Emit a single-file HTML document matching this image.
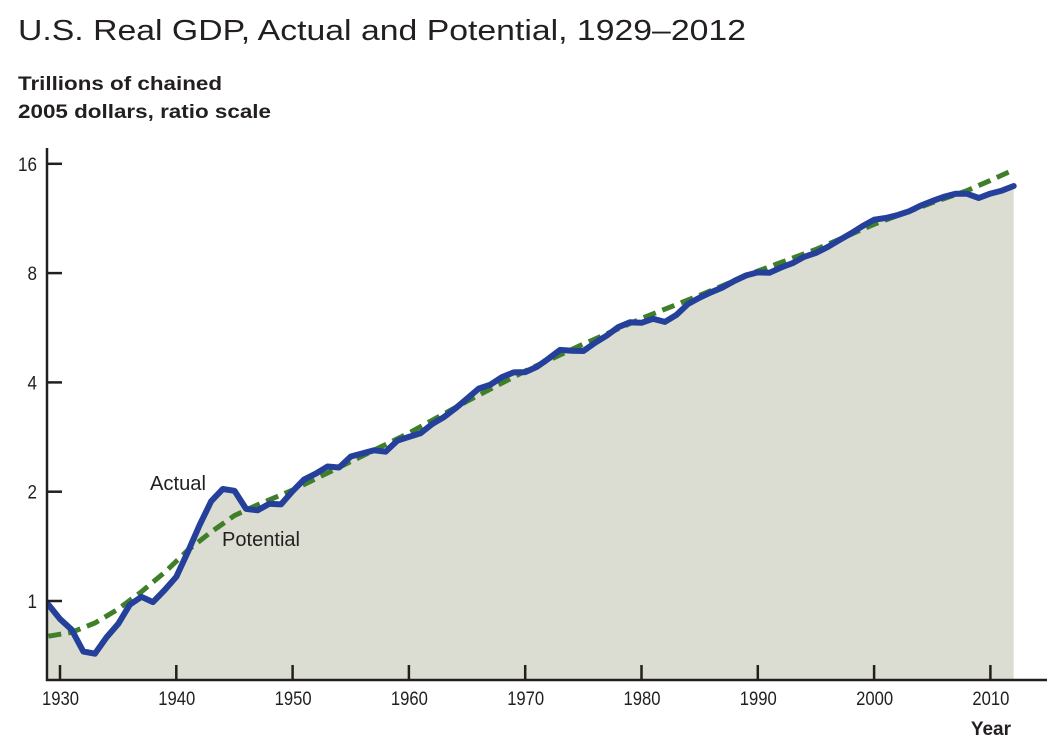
<!DOCTYPE html>
<html><head><meta charset="utf-8"><style>
body{margin:0;background:#fff;font-family:"Liberation Sans",sans-serif;}
svg text{font-family:"Liberation Sans",sans-serif;fill:#231f20;}
</style></head><body>
<svg id="chart" width="1053" height="747" viewBox="0 0 1053 747" xmlns="http://www.w3.org/2000/svg">
<text x="18" y="40" font-size="29" textLength="728" lengthAdjust="spacingAndGlyphs">U.S. Real GDP, Actual and Potential, 1929–2012</text>
<text x="18" y="90" font-size="19" font-weight="bold" textLength="204" lengthAdjust="spacingAndGlyphs">Trillions of chained</text>
<text x="18" y="118" font-size="19" font-weight="bold" textLength="253" lengthAdjust="spacingAndGlyphs">2005 dollars, ratio scale</text>
<g id="plot"></g>
<text x="1011" y="735" font-size="19" font-weight="bold" text-anchor="end">Year</text>
</svg>
<script>
const actualYears=[];for(let y=1929;y<=2012;y++)actualYears.push(y);
const actualValues=[0.977,0.892,0.834,0.726,0.716,0.794,0.865,0.977,1.027,0.993,1.072,1.166,1.366,1.618,1.883,2.035,2.012,1.793,1.777,1.852,1.845,2.006,2.162,2.243,2.347,2.332,2.500,2.550,2.601,2.578,2.763,2.831,2.897,3.073,3.207,3.392,3.610,3.845,3.943,4.133,4.262,4.270,4.413,4.648,4.917,4.890,4.880,5.141,5.378,5.677,5.855,5.839,5.988,5.871,6.136,6.577,6.849,7.087,7.313,7.614,7.886,8.034,8.015,8.287,8.523,8.871,9.094,9.434,9.854,10.284,10.780,11.226,11.347,11.553,11.841,12.264,12.638,12.976,13.229,13.229,12.881,13.248,13.5,13.9];
const potentialYears=[1929,1931,1933,1935,1937,1939,1941,1943,1945,1947,1950,1955,1960,1965,1970,1975,1980,1985,1990,1995,2000,2005,2008,2010,2012];
const potentialValues=[0.80,0.82,0.87,0.95,1.06,1.2,1.38,1.55,1.72,1.84,2.02,2.42,2.9,3.55,4.3,5.1,6.0,6.95,8.1,9.3,10.9,12.5,13.5,14.4,15.4];
const yTicks=[1,2,4,8,16];
const xTicks=[1930,1940,1950,1960,1970,1980,1990,2000,2010];

const NS="http://www.w3.org/2000/svg";
const g=document.getElementById('plot');
const X=yr=>60+(yr-1930)*11.63;
const Y=v=>601-Math.log2(v)*109.3;
function el(t,a){const e=document.createElementNS(NS,t);for(const k in a)e.setAttribute(k,a[k]);g.appendChild(e);return e;}
const clip=document.createElementNS(NS,'clipPath');clip.setAttribute('id','cp');
const r=document.createElementNS(NS,'rect');r.setAttribute('x',47);r.setAttribute('y',100);r.setAttribute('width',1000);r.setAttribute('height',580);clip.appendChild(r);g.appendChild(clip);
let pa=actualYears.map((y,i)=>X(y).toFixed(1)+','+Y(actualValues[i]).toFixed(1));
const area=el('path',{d:'M'+X(1929)+',680 L'+pa.join(' L')+' L'+X(2012)+',680 Z',fill:'#dcddd2','clip-path':'url(#cp)'});


const pot=el('polyline',{points:potentialYears.map((y,i)=>X(y).toFixed(1)+','+Y(potentialValues[i]).toFixed(1)).join(' '),fill:'none',stroke:'#3f7f2a','stroke-width':5,'stroke-dasharray':'13 7','clip-path':'url(#cp)'});


const act=el('polyline',{points:pa.join(' '),fill:'none',stroke:'#24409a','stroke-width':6,'stroke-linejoin':'round','stroke-linecap':'round','clip-path':'url(#cp)'});


const ax=el('path',{d:'M47,148 L47,680 L1047,680',fill:'none',stroke:'#231f20','stroke-width':2.5});


yTicks.forEach(v=>{
 const t=el('line',{x1:47,x2:62,y1:Y(v),y2:Y(v),stroke:'#231f20','stroke-width':2.5});
 
 
 const l=el('text',{x:37,y:Y(v)+7,'font-size':19,'text-anchor':'end',textLength:String(v).length*9.5,lengthAdjust:'spacingAndGlyphs'});l.textContent=v;
 
 
});
xTicks.forEach(v=>{
 const t=el('line',{x1:X(v),x2:X(v),y1:665,y2:680,stroke:'#231f20','stroke-width':2.5});
 
 
 const l=el('text',{x:X(v)-18,y:705,'font-size':19,textLength:37,lengthAdjust:'spacingAndGlyphs'});l.textContent=v;
 
 
});
const la=el('text',{x:150,y:490,'font-size':20,textLength:56,lengthAdjust:'spacingAndGlyphs'});la.textContent='Actual';


const lp=el('text',{x:222,y:546,'font-size':20,textLength:78,lengthAdjust:'spacingAndGlyphs'});lp.textContent='Potential';


</script>
</body></html>
